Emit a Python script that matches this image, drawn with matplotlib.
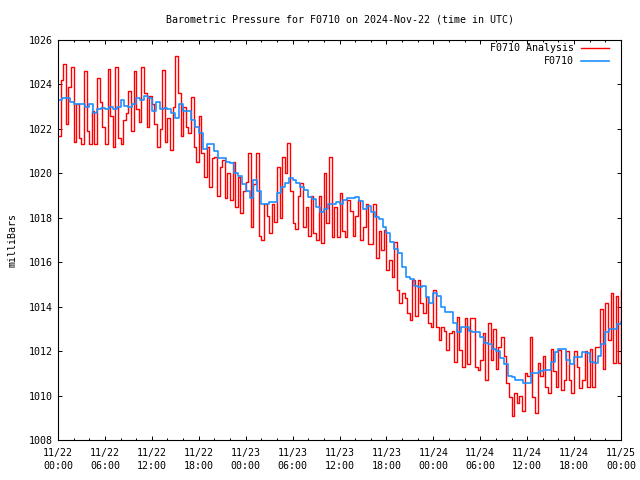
import numpy as np
import matplotlib
matplotlib.use("Agg")
import matplotlib.pyplot as plt
from matplotlib.ticker import MultipleLocator

# station pressure (mb) every 30 minutes, 11/22 00:00 .. 11/25 00:00
station = [
    1023.3, 1023.4, 1023.4, 1023.2, 1023.1, 1023.1, 1023.1, 1023.0,
    1023.1, 1022.7, 1022.9, 1022.95, 1022.9, 1023.0, 1022.9, 1023.0,
    1023.3, 1023.05, 1023.0, 1023.1, 1023.4, 1023.3, 1023.5, 1023.4,
    1022.8, 1023.2, 1022.9, 1022.95, 1022.9, 1022.7, 1022.5, 1023.1,
    1022.8, 1022.8, 1022.4, 1022.1, 1021.8, 1021.1, 1021.3, 1021.3,
    1021.0, 1020.7, 1020.7, 1020.5, 1020.45, 1020.0, 1019.9, 1019.5,
    1019.2, 1018.9, 1019.7, 1019.2, 1018.6, 1018.6, 1018.7, 1018.7,
    1019.1, 1019.4, 1019.55, 1019.8, 1019.7, 1019.55, 1019.4, 1019.25,
    1018.95, 1018.85, 1018.5, 1018.25, 1018.4, 1018.6, 1018.6, 1018.7,
    1018.6, 1018.8, 1018.9, 1018.9, 1018.95, 1018.75, 1018.4, 1018.55,
    1018.25, 1018.05, 1017.95, 1017.6, 1017.3, 1016.9, 1016.6, 1016.4,
    1015.8, 1015.35, 1015.25, 1014.95, 1014.9, 1014.95, 1014.45, 1014.15,
    1014.6, 1014.5, 1014.0, 1013.75, 1013.75, 1013.25, 1012.85, 1013.1,
    1013.1, 1012.9, 1012.85, 1012.85, 1012.65, 1012.35, 1012.3, 1012.1,
    1012.0, 1011.7, 1011.4, 1010.9, 1010.85, 1010.7, 1010.7, 1010.55,
    1010.55, 1011.0, 1011.0, 1011.1, 1011.15, 1011.15, 1011.5, 1011.95,
    1012.1, 1012.1, 1011.6, 1011.4, 1011.75, 1011.75, 1011.95, 1011.9,
    1011.5, 1011.45, 1011.8, 1012.3, 1012.85, 1013.0, 1013.0, 1013.2,
    1013.3,
]

# analysis pressure (mb), every 20 minutes
analysis = [
    1021.7, 1024.2, 1024.9, 1022.2, 1023.9, 1024.8, 1021.4, 1023.1, 1021.6,
    1021.3, 1024.6, 1021.9, 1021.3, 1022.8, 1021.3, 1024.3, 1023.2, 1022.1,
    1021.3, 1024.7, 1022.6, 1021.2, 1024.8, 1021.6, 1021.3, 1022.4, 1022.7,
    1023.7, 1021.9, 1024.6, 1022.9, 1022.3, 1024.8, 1023.6, 1022.1, 1023.5,
    1023.1, 1022.2, 1021.2, 1022.0, 1024.65, 1021.4, 1022.5, 1021.05, 1023.0,
    1025.3, 1023.6, 1021.7, 1023.0, 1022.1, 1021.8, 1023.45, 1021.2, 1020.5,
    1022.6, 1020.9, 1019.85, 1021.2, 1019.4, 1020.7, 1020.75, 1019.0, 1020.3,
    1020.6, 1018.9, 1020.0, 1018.8, 1020.5, 1018.5, 1019.85, 1018.2, 1019.2,
    1019.6, 1020.9, 1017.6, 1019.5, 1020.9, 1017.2, 1017.0, 1018.6, 1018.1,
    1017.3, 1018.6, 1017.8, 1020.3, 1018.0, 1020.75, 1020.0, 1021.35, 1019.2,
    1017.75, 1017.5, 1019.0, 1019.55, 1017.6, 1018.5, 1017.2, 1019.0, 1017.3,
    1017.0, 1019.0, 1016.85, 1020.0, 1017.75, 1020.75, 1017.15, 1018.5, 1017.15,
    1019.1, 1017.4, 1017.15, 1018.8, 1018.3, 1017.2, 1018.1, 1018.8, 1017.0,
    1017.6, 1018.6, 1016.8, 1016.8, 1018.6, 1016.2, 1017.4, 1016.55, 1017.45,
    1015.65, 1016.1, 1015.35, 1016.9, 1014.75, 1014.15, 1014.6, 1014.4, 1013.7,
    1013.4, 1015.2, 1013.6, 1015.2, 1014.15, 1013.7, 1014.45, 1013.25, 1013.1,
    1014.75, 1013.1, 1012.5, 1013.1, 1012.9, 1012.05, 1012.8, 1012.9, 1011.5,
    1013.55, 1012.05, 1011.3, 1013.5, 1011.4, 1013.5, 1013.5, 1011.3, 1011.15,
    1011.6, 1012.8, 1010.7, 1013.25, 1011.6, 1013.0, 1011.2, 1012.2, 1012.65,
    1011.8, 1010.55, 1009.95, 1009.1, 1010.1, 1009.65, 1010.0, 1009.3, 1011.0,
    1010.9, 1012.65, 1009.95, 1009.2, 1011.45, 1010.9, 1011.8, 1010.4, 1010.1,
    1012.1, 1011.1, 1010.4, 1012.05, 1010.25, 1010.7, 1012.0, 1010.7, 1010.1,
    1012.0, 1011.3, 1010.35, 1010.7, 1012.0, 1010.4, 1012.1, 1010.4, 1012.2,
    1012.2, 1013.9, 1011.2, 1014.15, 1012.5, 1014.6, 1011.45, 1014.5, 1011.45,
    1014.75,
]

tick_labels = [
    "11/22\n00:00", "11/22\n06:00", "11/22\n12:00", "11/22\n18:00",
    "11/23\n00:00", "11/23\n06:00", "11/23\n12:00", "11/23\n18:00",
    "11/24\n00:00", "11/24\n06:00", "11/24\n12:00", "11/24\n18:00",
    "11/25\n00:00",
]

station_hours = np.arange(len(station)) / 2.0
analysis_hours = np.arange(len(analysis)) / 3.0

plt.rcParams["font.family"] = "DejaVu Sans Mono"
plt.rcParams["font.size"] = 7.2

fig = plt.figure(figsize=(6.4, 4.8), dpi=100)
ax = fig.add_axes([58 / 640, 40 / 480, 563 / 640, 400 / 480])

ax.step(
    analysis_hours,
    analysis,
    where="post",
    color="#ff0000",
    linewidth=1.0,
    label="F0710 Analysis"
)

ax.step(
    station_hours,
    station,
    where="post",
    color="#1e90ff",
    linewidth=1.2,
    label="F0710"
)

ax.set_xlim(0, 72)
ax.set_ylim(1008, 1026)

ax.set_xticks(np.arange(0, 73, 6))
ax.set_xticklabels(tick_labels, linespacing=1.35)
ax.xaxis.set_minor_locator(MultipleLocator(2))
ax.set_yticks(np.arange(1008, 1027, 2))

ax.tick_params(
    which="both",
    direction="in",
    top=True,
    right=True,
    width=0.7,
    colors="black"
)
ax.tick_params(which="major", length=3.0)
ax.tick_params(which="minor", length=1.5)
ax.tick_params(axis="x", which="major", pad=6)
ax.tick_params(axis="y", which="major", pad=4)

for spine in ax.spines.values():
    spine.set_linewidth(0.8)

ax.set_ylabel("milliBars", labelpad=8)

fig.text(
    339.5 / 640,
    1 - 20 / 480,
    "Barometric Pressure for F0710 on 2024-Nov-22 (time in UTC)",
    ha="center",
    va="center"
)

fig.legend(
    loc="upper right",
    bbox_to_anchor=(609 / 640, 1 - 43 / 480),
    frameon=False,
    markerfirst=False,
    handlelength=2.8,
    handletextpad=0.7,
    labelspacing=0.3,
    borderpad=0,
    borderaxespad=0
)

fig.savefig("out.png", dpi=100)
plt.close(fig)
